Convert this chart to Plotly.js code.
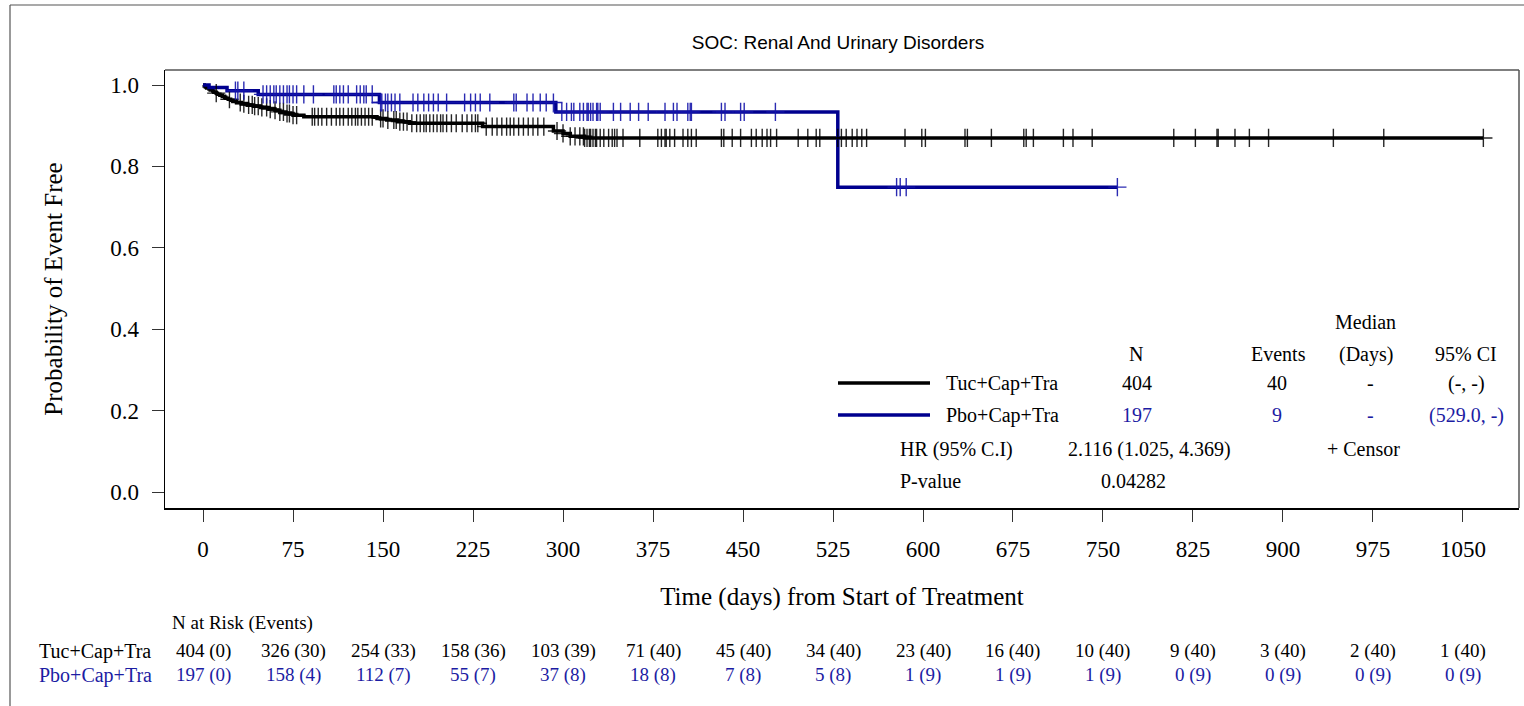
<!DOCTYPE html>
<html>
<head>
<meta charset="utf-8">
<script src="https://cdn.plot.ly/plotly-3.0.1.min.js"></script>
<style>html,body{margin:0;padding:0;background:#fff;}#chart{width:1524px;height:706px;}</style>
</head>
<body>
<div id="chart"></div>
<script>
// ---- Data ----
const armNames = ["Tuc+Cap+Tra", "Pbo+Cap+Tra"];

// Kaplan-Meier step points (day, survival) - Tuc+Cap+Tra
const tucTimes = [0, 1, 2, 3, 5, 6, 8, 9, 11, 12, 14, 16, 18, 19, 21, 23, 25, 28, 32, 37, 42, 48, 55, 60, 64, 69, 75, 84, 145, 153, 162, 172, 233, 292, 300, 306, 318, 1067];
const tucSurv  = [1.0, 0.9975, 0.995, 0.9925, 0.99, 0.9875, 0.985, 0.9825, 0.98, 0.9775, 0.975, 0.9725, 0.97, 0.9675, 0.965, 0.9625, 0.96, 0.957, 0.954, 0.951, 0.948, 0.945, 0.941, 0.938, 0.934, 0.930, 0.926, 0.922, 0.918, 0.914, 0.910, 0.906, 0.898, 0.887, 0.881, 0.874, 0.870, 0.870];
const tucCensor = [11, 22, 31, 34, 38, 41, 43, 46, 49, 53, 56, 60, 64, 67, 70, 72, 75, 78, 91, 93, 96, 99, 103, 107, 111, 114, 117, 121, 124, 127, 129, 132, 135, 138, 141, 148, 150, 154, 159, 161, 164, 167, 170, 174, 178, 181, 184, 186, 189, 192, 195, 198, 200, 203, 207, 211, 216, 220, 224, 227, 229, 236, 241, 245, 249, 253, 256, 259, 263, 267, 271, 275, 279, 284, 295, 300, 306, 310, 314, 317, 318, 320, 322, 323, 325, 327, 328, 331, 334, 338, 341, 343, 345, 350, 364, 379, 382, 385, 386, 389, 393, 400, 404, 407, 411, 432, 434, 441, 448, 457, 461, 466, 470, 473, 478, 496, 504, 511, 514, 529, 532, 536, 541, 545, 549, 553, 585, 599, 602, 635, 637, 657, 684, 686, 692, 717, 725, 741, 809, 827, 845, 846, 860, 872, 888, 942, 984, 1067];

// Kaplan-Meier step points - Pbo+Cap+Tra
const pboTimes = [0, 5, 20, 46, 147, 294, 529, 762];
const pboSurv  = [1.0, 0.994, 0.986, 0.977, 0.957, 0.934, 0.749, 0.749];
const pboCensor = [27, 29, 34, 50, 53, 56, 59, 61, 64, 67, 70, 72, 75, 78, 84, 92, 109, 111, 114, 117, 121, 128, 131, 134, 136, 141, 148, 149, 152, 154, 157, 160, 164, 175, 179, 184, 188, 192, 196, 203, 218, 223, 227, 231, 239, 259, 261, 270, 275, 281, 286, 292, 299, 303, 307, 309, 314, 317, 320, 321, 323, 325, 328, 329, 331, 342, 348, 356, 363, 371, 385, 392, 395, 404, 406, 407, 432, 435, 448, 451, 477, 578, 581, 586, 762];

// Number at risk table
const riskDays = [0, 75, 150, 225, 300, 375, 450, 525, 600, 675, 750, 825, 900, 975, 1050];
const tucRisk   = [404, 326, 254, 158, 103, 71, 45, 34, 23, 16, 10, 9, 3, 2, 1];
const tucEvents = [0, 30, 33, 36, 39, 40, 40, 40, 40, 40, 40, 40, 40, 40, 40];
const pboRisk   = [197, 158, 112, 55, 37, 18, 7, 5, 1, 1, 1, 0, 0, 0, 0];
const pboEvents = [0, 4, 7, 7, 8, 8, 8, 8, 9, 9, 9, 9, 9, 9, 9];

// Summary statistics
const statN = ["404", "197"];
const statEvents = ["40", "9"];
const statMedian = ["-", "-"];
const statCI = ["(-, -)", "(529.0, -)"];
const hrText = "2.116 (1.025, 4.369)";
const pText = "0.04282";

const xTicks = [0, 75, 150, 225, 300, 375, 450, 525, 600, 675, 750, 825, 900, 975, 1050];
const yTicks = [0.0, 0.2, 0.4, 0.6, 0.8, 1.0];

// ---- Styles ----
const BLACK = "#000000";
const BLUE = "#00008f";
const BLUE_TXT = "#1c1ca3";
const SERIF = "Liberation Serif, Times New Roman, serif";
const SANS = "Liberation Sans, Arial, sans-serif";

function survAt(times, surv, t) {
  let s = surv[0];
  for (let i = 0; i < times.length; i++) { if (times[i] <= t) s = surv[i]; }
  return s;
}

const traces = [
  {x: tucTimes, y: tucSurv, type: "scatter", mode: "lines", line: {shape: "hv", color: BLACK, width: 3.5}, hoverinfo: "skip", showlegend: false},
  {x: pboTimes, y: pboSurv, type: "scatter", mode: "lines", line: {shape: "hv", color: BLUE, width: 3.5}, hoverinfo: "skip", showlegend: false},
  {x: tucCensor, y: tucCensor.map(t => survAt(tucTimes, tucSurv, t)), type: "scatter", mode: "markers",
   marker: {symbol: "cross-thin-open", size: 13, color: "rgba(0,0,0,0.85)", line: {color: "rgba(0,0,0,0.85)", width: 1.4}}, hoverinfo: "skip", showlegend: false},
  {x: pboCensor, y: pboCensor.map(t => survAt(pboTimes, pboSurv, t)), type: "scatter", mode: "markers",
   marker: {symbol: "cross-thin-open", size: 13, color: "rgba(20,20,170,0.9)", line: {color: "rgba(20,20,170,0.9)", width: 1.4}}, hoverinfo: "skip", showlegend: false}
];

// geometry helpers: plot area left 165, right 1519, top 70, bottom 508
const PL = 165, PR = 1519, PT = 70, PB = 508;
const px = v => (v - PL) / (PR - PL);
const py = v => (PB - v) / (PB - PT);

const annotations = [];
function txt(text, x, y, opts) {
  annotations.push(Object.assign({text: text, x: x, y: y, xref: "paper", yref: "paper", showarrow: false,
    xanchor: "center", yanchor: "middle", font: {family: SERIF, size: 20, color: BLACK}}, opts || {}));
}

// Legend / stats table
txt("Median", px(1365), py(322));
txt("N", px(1136), py(354));
txt("Events", px(1278), py(354));
txt("(Days)", px(1366), py(354));
txt("95% CI", px(1466), py(354));
const rowsY = [383, 415];
for (let i = 0; i < 2; i++) {
  const c = i === 0 ? BLACK : BLUE_TXT;
  txt(armNames[i], px(944), py(rowsY[i]), {xanchor: "left"});
  txt(statN[i], px(1137), py(rowsY[i]), {font: {family: SERIF, size: 20, color: c}});
  txt(statEvents[i], px(1277), py(rowsY[i]), {font: {family: SERIF, size: 20, color: c}});
  txt(statMedian[i], px(1370), py(rowsY[i]), {font: {family: SERIF, size: 20, color: c}});
  txt(statCI[i], px(1466), py(rowsY[i]), {font: {family: SERIF, size: 20, color: c}});
}
txt("HR (95% C.I)", px(898), py(449), {xanchor: "left"});
txt(hrText, px(1233), py(449), {xanchor: "right"});
txt("+ Censor", px(1363), py(449));
txt("P-value", px(898), py(481), {xanchor: "left"});
txt(pText, px(1133), py(481));

// Number at risk
txt("N at Risk (Events)", px(170), py(623), {xanchor: "left", font: {family: SERIF, size: 19, color: BLACK}});
txt(armNames[0], px(37), py(651), {xanchor: "left", font: {family: SERIF, size: 20, color: BLACK}});
txt(armNames[1], px(37), py(675), {xanchor: "left", font: {family: SERIF, size: 20, color: BLUE_TXT}});
for (let i = 0; i < riskDays.length; i++) {
  annotations.push({text: tucRisk[i] + " (" + tucEvents[i] + ")", x: riskDays[i], xref: "x", y: py(651), yref: "paper",
    showarrow: false, xanchor: "center", yanchor: "middle", font: {family: SERIF, size: 19, color: BLACK}});
  annotations.push({text: pboRisk[i] + " (" + pboEvents[i] + ")", x: riskDays[i], xref: "x", y: py(675), yref: "paper",
    showarrow: false, xanchor: "center", yanchor: "middle", font: {family: SERIF, size: 19, color: BLUE_TXT}});
}

const shapes = [
  // outer frame (left and top edges visible)
  {type: "line", xref: "paper", yref: "paper", x0: px(10), x1: px(10), y0: py(5), y1: py(720), line: {color: "#555", width: 1.2}},
  {type: "line", xref: "paper", yref: "paper", x0: px(10), x1: px(1540), y0: py(5), y1: py(5), line: {color: "#555", width: 1.2}},
  // plot box top and right
  {type: "line", xref: "paper", yref: "paper", x0: 0, x1: 1, y0: 1, y1: 1, line: {color: "#555", width: 1.5}},
  {type: "line", xref: "paper", yref: "paper", x0: 1, x1: 1, y0: 0, y1: 1, line: {color: "#555", width: 1.5}},
  // legend line samples
  {type: "line", xref: "paper", yref: "paper", x0: px(838), x1: px(930), y0: py(383), y1: py(383), line: {color: BLACK, width: 3.5}},
  {type: "line", xref: "paper", yref: "paper", x0: px(838), x1: px(930), y0: py(415), y1: py(415), line: {color: BLUE, width: 3.5}}
];

const layout = {
  width: 1524, height: 706,
  margin: {l: PL, r: 1524 - PR, t: PT, b: 706 - PB, pad: 0},
  paper_bgcolor: "#fff", plot_bgcolor: "#fff",
  showlegend: false,
  title: {text: "SOC: Renal And Urinary Disorders", font: {family: SANS, size: 19, color: BLACK},
    x: 838 / 1524, xref: "container", xanchor: "center", y: 1 - 42 / 706, yref: "container", yanchor: "middle"},
  xaxis: {
    range: [-31.7, 1096.7], tickvals: xTicks, ticktext: xTicks.map(String),
    ticks: "outside", ticklen: 12, tickwidth: 1, tickcolor: "#333",
    showline: true, linecolor: BLACK, linewidth: 1.5, showgrid: false, zeroline: false,
    tickfont: {family: SERIF, size: 23, color: BLACK}, ticklabelstandoff: 8,
    title: {text: "Time (days) from Start of Treatment", font: {family: SERIF, size: 25, color: BLACK}, standoff: 26}
  },
  yaxis: {
    range: [-0.0393, 1.0369], tickvals: yTicks, ticktext: yTicks.map(v => v.toFixed(1)),
    ticks: "outside", ticklen: 12, tickwidth: 1, tickcolor: "#333",
    showline: true, linecolor: BLACK, linewidth: 1.5, showgrid: false, zeroline: false,
    tickfont: {family: SERIF, size: 23, color: BLACK}, ticklabelstandoff: 8,
    title: {text: "Probability of Event Free", font: {family: SERIF, size: 25, color: BLACK}, standoff: 40}
  },
  annotations: annotations,
  shapes: shapes
};

Plotly.newPlot("chart", traces, layout, {displayModeBar: false, staticPlot: true});
</script>
</body>
</html>
